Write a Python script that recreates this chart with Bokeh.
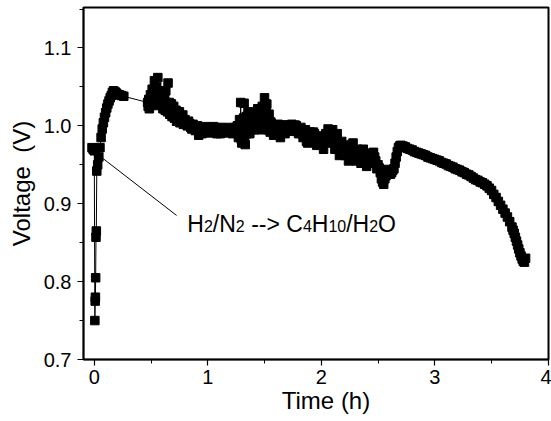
from bokeh.plotting import figure
from bokeh.models import (Range1d, SingleIntervalTicker, PrintfTickFormatter,
                          Label, ColumnDataSource)
from bokeh.embed import file_html
from bokeh.resources import INLINE

# ---- data ----
time_h = [
    -0.02, -0.01, 0.0, 0.005, 0.008, 0.01, 0.012, 0.015, 0.018, 0.022, 0.03, 0.04,
    0.05, 0.06, 0.07, 0.08, 0.09, 0.10, 0.11, 0.12, 0.13, 0.14, 0.15, 0.16, 0.17,
    0.18, 0.19, 0.20, 0.21, 0.22, 0.24, 0.26,
    0.47, 0.475, 0.48, 0.485, 0.49, 0.495, 0.50, 0.505, 0.51, 0.515, 0.52, 0.525,
    0.53, 0.535, 0.54, 0.545, 0.55, 0.555, 0.56, 0.565, 0.57, 0.575, 0.58, 0.585,
    0.59, 0.595, 0.60, 0.605, 0.61, 0.615, 0.62, 0.625, 0.63, 0.635, 0.64, 0.645,
    0.65, 0.655, 0.66, 0.665, 0.67, 0.675, 0.68, 0.685, 0.69, 0.695, 0.70, 0.705,
    0.71, 0.715, 0.72, 0.725, 0.73, 0.735, 0.74, 0.745, 0.75, 0.755, 0.76, 0.765,
    0.77, 0.775, 0.78, 0.785, 0.79,
    0.80, 0.81, 0.82, 0.83, 0.84, 0.85, 0.86, 0.87, 0.88, 0.89, 0.90,
    0.91, 0.92, 0.93, 0.94, 0.95, 0.96, 0.97, 0.98, 0.99, 1.00, 1.01, 1.02, 1.03,
    1.04, 1.05, 1.06, 1.07, 1.08, 1.09, 1.10, 1.11, 1.12, 1.13, 1.14, 1.15, 1.16,
    1.17, 1.18, 1.19, 1.20, 1.21, 1.22, 1.23, 1.24, 1.25,
    1.26, 1.265, 1.27, 1.275, 1.28, 1.285, 1.29, 1.295, 1.30, 1.305, 1.31, 1.315,
    1.32, 1.325, 1.33, 1.335, 1.34, 1.345, 1.35, 1.355, 1.36, 1.365, 1.37, 1.375,
    1.38, 1.39, 1.40, 1.41, 1.415, 1.42, 1.43, 1.44, 1.45, 1.455, 1.46, 1.47, 1.48,
    1.49, 1.495, 1.50, 1.505, 1.51, 1.515, 1.52, 1.525, 1.53, 1.535, 1.54, 1.545,
    1.55, 1.555, 1.56, 1.57, 1.58, 1.59, 1.60,
    1.61, 1.62, 1.63, 1.64, 1.65, 1.66, 1.67, 1.68, 1.69, 1.70, 1.71, 1.72, 1.73,
    1.74, 1.75, 1.76, 1.77, 1.78, 1.79, 1.80, 1.81, 1.82, 1.83, 1.84, 1.85, 1.86,
    1.87, 1.88, 1.89, 1.90, 1.91, 1.92, 1.93, 1.94, 1.95, 1.96, 1.97, 1.98, 1.99,
    2.00,
    2.01, 2.02, 2.03, 2.04, 2.05, 2.06, 2.07, 2.08, 2.09, 2.10, 2.11, 2.12, 2.13,
    2.14, 2.15, 2.16, 2.17, 2.18, 2.19, 2.20, 2.21, 2.22, 2.23, 2.24, 2.25, 2.26,
    2.27, 2.28, 2.29, 2.30, 2.31, 2.32, 2.33, 2.34, 2.35, 2.36, 2.37, 2.38, 2.39,
    2.40, 2.41, 2.42, 2.43, 2.44, 2.45, 2.46, 2.47, 2.48, 2.49, 2.50, 2.51, 2.52,
    2.53, 2.54, 2.55, 2.56, 2.57, 2.58, 2.59, 2.60, 2.61, 2.62, 2.63, 2.64, 2.65,
    2.66, 2.67, 2.68, 2.69, 2.70,
    2.72, 2.74, 2.76, 2.78, 2.80, 2.82, 2.84, 2.86, 2.88, 2.90, 2.92, 2.94, 2.96,
    2.98, 3.00, 3.02, 3.04, 3.06, 3.08, 3.10, 3.12, 3.14, 3.16, 3.18, 3.20, 3.22,
    3.24, 3.26, 3.28, 3.30, 3.32, 3.34, 3.36, 3.38, 3.40, 3.42, 3.44, 3.46, 3.48,
    3.50, 3.52, 3.54, 3.56, 3.58, 3.60, 3.62, 3.64, 3.66, 3.68, 3.69, 3.70, 3.71,
    3.72, 3.73, 3.74, 3.75, 3.76, 3.77, 3.78, 3.79, 3.80,
]
voltage_v = [
    0.972, 0.970, 0.968, 0.750, 0.775, 0.780, 0.805, 0.857, 0.865, 0.942, 0.950, 0.960,
    0.972, 0.985, 0.996, 1.004, 1.011, 1.017, 1.023, 1.028, 1.032, 1.036, 1.039, 1.043, 1.045,
    1.044, 1.043, 1.041, 1.040, 1.040, 1.039, 1.038,
    1.030, 1.025, 1.034, 1.022, 1.028, 1.040, 1.036, 1.026, 1.047, 1.030, 1.032, 1.042,
    1.058, 1.028, 1.040, 1.034, 1.050, 1.038, 1.062, 1.030, 1.035, 1.042, 1.045, 1.026,
    1.030, 1.038, 1.040, 1.022, 1.028, 1.034, 1.036, 1.020, 1.045, 1.030, 1.026, 1.018,
    1.055, 1.024, 1.030, 1.015, 1.022, 1.028, 1.028, 1.012, 1.018, 1.024, 1.025, 1.010,
    1.012, 1.018, 1.020, 1.006, 1.015, 1.010, 1.008, 1.016, 1.018, 1.004, 1.012, 1.008,
    1.006, 1.012, 1.014, 1.002, 1.004,
    1.008, 1.003, 1.000, 1.006, 1.003, 0.998, 0.996, 1.002, 1.000, 0.994, 0.995,
    1.000, 0.988, 0.993, 0.997, 0.990, 0.993, 0.996, 0.999, 0.994, 0.992, 0.996, 0.997, 0.991,
    0.994, 0.999, 0.998, 0.993, 0.990, 0.996, 0.995, 0.990, 0.993, 0.998, 0.997, 0.992, 0.991,
    0.995, 0.996, 0.992, 0.994, 0.998, 0.990, 0.994, 0.997, 0.992,
    1.000, 0.990, 0.985, 0.996, 1.008, 0.992, 1.030, 0.983, 0.978, 0.998, 1.000, 1.010,
    1.029, 0.988, 0.976, 1.000, 1.012, 0.990, 0.995, 1.008, 1.018, 0.996, 0.990, 1.012,
    1.005, 0.995, 1.015, 0.995, 1.010, 1.008, 0.998, 1.022, 0.998, 1.015, 1.012, 0.995, 1.025,
    1.000, 1.018, 1.036, 1.002, 1.005, 1.020, 1.028, 0.998, 0.995, 1.010, 1.015, 0.996,
    0.992, 1.005, 1.003, 0.995, 0.988, 1.000, 0.998,
    0.993, 1.002, 0.996, 0.985, 0.993, 0.997, 1.001, 0.990, 0.996, 1.001, 0.995, 0.993, 0.999,
    1.002, 0.996, 0.995, 1.001, 1.000, 0.993, 0.990, 0.996, 0.998, 0.990, 0.985, 0.993, 0.995,
    0.980, 0.978, 0.990, 0.992, 0.986, 0.983, 0.992, 0.990, 0.980, 0.975, 0.987, 0.985, 0.976,
    0.978,
    0.985, 0.970, 0.980, 0.990, 0.983, 0.996, 0.990, 0.985, 0.978, 0.995, 0.988, 0.970, 0.978,
    0.990, 0.975, 0.962, 0.972, 0.980, 0.975, 0.968, 0.962, 0.975, 0.968, 0.955, 0.962, 0.970,
    0.976, 0.978, 0.968, 0.962, 0.955, 0.970, 0.965, 0.958, 0.952, 0.966, 0.970, 0.960, 0.955,
    0.948, 0.958, 0.965, 0.962, 0.958, 0.952, 0.966, 0.960, 0.955, 0.945, 0.950, 0.946, 0.940,
    0.932, 0.928, 0.925, 0.932, 0.936, 0.938, 0.944, 0.942, 0.938, 0.940, 0.943, 0.945, 0.952,
    0.960, 0.967, 0.972, 0.974, 0.975,
    0.974, 0.973, 0.971, 0.970, 0.969, 0.967, 0.966, 0.965, 0.964, 0.963, 0.962, 0.960, 0.959,
    0.958, 0.957, 0.956, 0.955, 0.953, 0.952, 0.951, 0.949, 0.948, 0.947, 0.945, 0.944, 0.943,
    0.941, 0.940, 0.938, 0.937, 0.935, 0.933, 0.931, 0.930, 0.928, 0.927, 0.925, 0.923, 0.920,
    0.917, 0.912, 0.908, 0.903, 0.898, 0.893, 0.888, 0.883, 0.877, 0.870, 0.866, 0.862, 0.857,
    0.852, 0.847, 0.842, 0.837, 0.833, 0.829, 0.826, 0.825, 0.830,
]

# annotation: line from the switch point to the label, and label pieces (text, is_subscript)
note_line_t = [0.06, 0.725]
note_line_v = [0.960, 0.885]
note_t, note_v = 0.82, 0.874
note_pieces = [("H", False), ("2", True), ("/", False), ("N", False), ("2", True),
               (" --> ", False), ("C", False), ("4", True), ("H", False), ("10", True),
               ("/", False), ("H", False), ("2", True), ("O", False)]

x_title = "Time (h)"
y_title = "Voltage\u00a0 (V)"

FONT = "Liberation Sans"

p = figure(width=551, height=421, output_backend="svg", toolbar_location=None,
           x_range=Range1d(-0.095, 4.002), y_range=Range1d(0.7, 1.152),
           min_border_left=83, min_border_right=3, min_border_top=7, min_border_bottom=62)
p.background_fill_color = "white"
p.border_fill_color = "white"
p.outline_line_color = "black"
p.outline_line_width = 2
p.xgrid.visible = False
p.ygrid.visible = False

src = ColumnDataSource(dict(t=time_h, v=voltage_v))
p.line("t", "v", source=src, line_color="black", line_width=1)
p.scatter("t", "v", source=src, marker="square", size=8.5, fill_color="black", line_color="black")

p.line(note_line_t, note_line_v, line_color="black", line_width=1)

# label pieces placed with Arial/Liberation Sans advance widths
adv = {"H": 0.722, "N": 0.722, "C": 0.722, "O": 0.778, "/": 0.278, " ": 0.278,
       "-": 0.333, ">": 0.584, "0": 0.556, "1": 0.556, "2": 0.556, "4": 0.556}
main_px, sub_px = 23, 16
xoff = 0.0
for txt, sub in note_pieces:
    size = sub_px if sub else main_px
    core = txt.strip()
    lead = len(txt) - len(txt.lstrip())
    trail = len(txt) - len(txt.rstrip())
    xoff += lead * adv[" "] * size
    p.add_layout(Label(x=note_t, y=note_v, x_offset=xoff, y_offset=(-2 if sub else 0),
                       text=core, text_font=FONT, text_font_size=f"{size}px",
                       text_color="black", text_baseline="alphabetic", text_align="left"))
    xoff += (sum(adv[c] for c in core) + trail * adv[" "]) * size

for ax in (p.xaxis[0], p.yaxis[0]):
    ax.axis_line_color = "black"
    ax.axis_line_width = 1.5
    ax.major_tick_line_color = "black"
    ax.minor_tick_line_color = "black"
    ax.major_tick_line_width = 1.2
    ax.minor_tick_line_width = 1
    ax.major_tick_in = 0
    ax.major_tick_out = 6
    ax.minor_tick_in = 0
    ax.minor_tick_out = 4
    ax.major_label_text_font = FONT
    ax.major_label_text_font_size = "20px"
    ax.major_label_text_color = "black"
    ax.axis_label_text_font = FONT
    ax.axis_label_text_font_size = "24px"
    ax.axis_label_text_font_style = "normal"
    ax.axis_label_text_color = "black"

p.xaxis.ticker = SingleIntervalTicker(interval=1, num_minor_ticks=2)
p.yaxis.ticker = SingleIntervalTicker(interval=0.1, num_minor_ticks=2)
p.yaxis.formatter = PrintfTickFormatter(format="%.1f")
# leading no-break spaces nudge the centred x title a little right, as in the reference
p.xaxis.axis_label = "\u00a0\u00a0\u00a0" + x_title
p.yaxis.axis_label = y_title
p.xaxis.major_label_standoff = 4
p.yaxis.major_label_standoff = 6
p.xaxis.axis_label_standoff = 0
p.yaxis.axis_label_standoff = 6

open("out.html", "w").write(file_html(p, INLINE))
